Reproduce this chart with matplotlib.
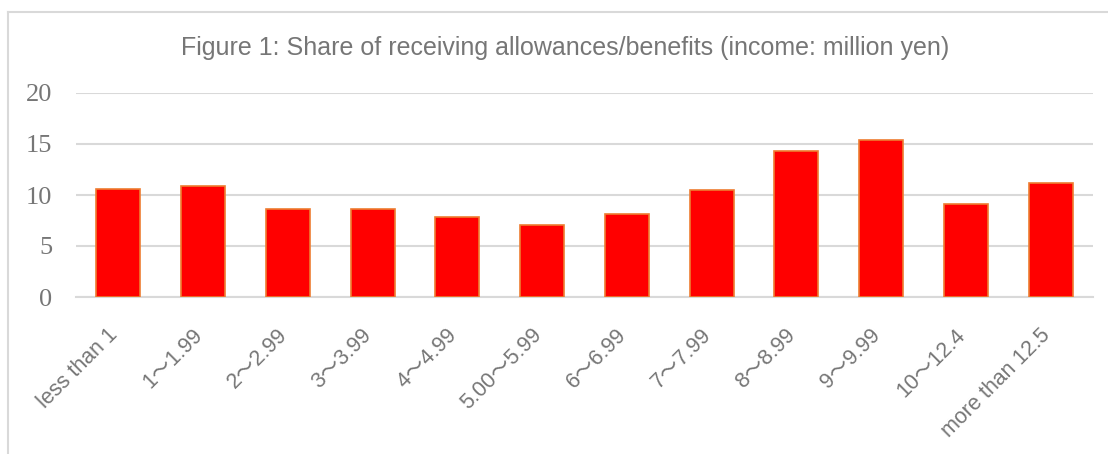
import numpy as np
import matplotlib.pyplot as plt
from matplotlib.lines import Line2D

categories = ["less than 1", "1～1.99", "2～2.99", "3～3.99", "4～4.99", "5.00～5.99",
              "6～6.99", "7～7.99", "8～8.99", "9～9.99", "10～12.4", "more than 12.5"]
share = [10.6, 10.85, 8.6, 8.6, 7.8, 7.1, 8.1, 10.5, 14.3, 15.4, 9.1, 11.2]
yticks = [0, 5, 10, 15, 20]

grid_col = "#d9d9d9"
text_col = "#767676"
sans = ["Liberation Sans", "Noto Sans CJK JP", "DejaVu Sans"]

fig = plt.figure(figsize=(11.08, 4.54), dpi=100)
ax = fig.add_axes([76 / 1108, 1 - 297 / 454, 1017 / 1108, 204 / 454])

x = np.arange(len(categories))
ax.bar(x, share, width=0.52, color="#ff0000", edgecolor="#ed7d31", linewidth=1.2, zorder=3)

ax.set_xlim(-0.5, len(categories) - 0.5)
ax.set_ylim(0, 20)
ax.set_yticks(yticks)
ax.set_yticklabels([str(t) for t in yticks], family="Liberation Serif", fontsize=19, color=text_col)
ax.set_xticks(x)
# baseline anchoring keeps the rotated text ending near the bar centre
ax.set_xticklabels(categories, rotation=45, ha="right", va="baseline", rotation_mode="anchor",
                   family=sans, fontsize=15.5, color=text_col)
ax.tick_params(axis="both", length=0)
ax.tick_params(axis="y", pad=17)
ax.tick_params(axis="x", pad=28)
ax.grid(axis="y", color=grid_col, linewidth=1.5, zorder=0)
for side in ["top", "right", "left"]:
    ax.spines[side].set_visible(False)
ax.spines["bottom"].set_color(grid_col)
ax.spines["bottom"].set_linewidth(1.5)

fig.text(565 / 1108, 1 - 48 / 454, "Figure 1: Share of receiving allowances/benefits (income: million yen)",
         ha="center", va="center", family=sans, fontsize=18, color=text_col)

# chart frame (only top and left edges fall inside the picture)
fig.add_artist(Line2D([8 / 1108, 8 / 1108], [0, 1 - 12 / 454], transform=fig.transFigure,
                      color=grid_col, linewidth=1.5))
fig.add_artist(Line2D([8 / 1108, 1], [1 - 12 / 454, 1 - 12 / 454], transform=fig.transFigure,
                      color=grid_col, linewidth=1.5))

fig.savefig("out.png", dpi=100)
